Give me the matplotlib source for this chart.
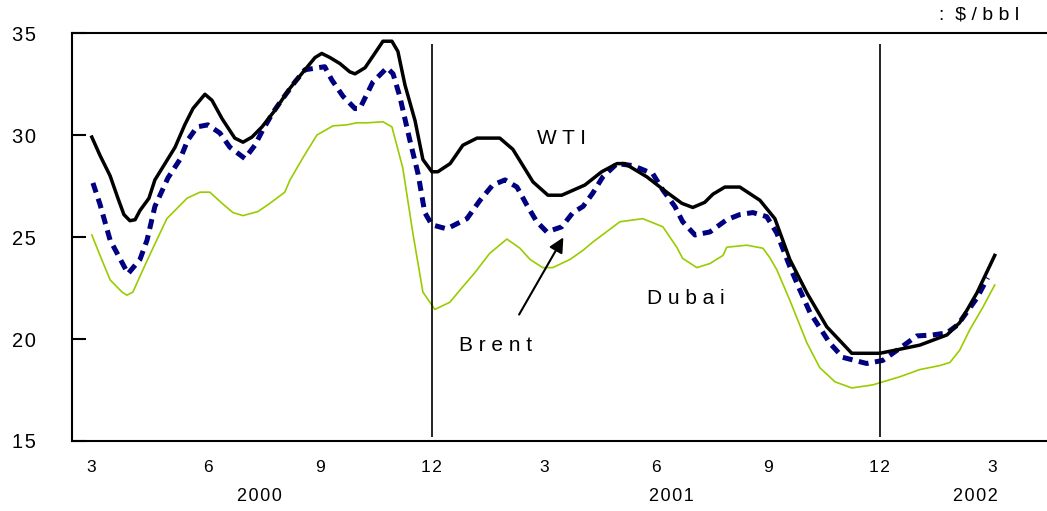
import numpy as np
import matplotlib
matplotlib.use("Agg")
import matplotlib.pyplot as plt
import matplotlib.transforms as mtransforms

plt.rcParams['font.family'] = ['Liberation Sans', 'DejaVu Sans']

# months after March 2000 (fractional, weekly-ish readings)
wti_x = [-0.11, 0.11, 0.38, 0.59, 0.75, 0.91, 1.05, 1.18, 1.42, 1.58, 1.85, 2.12, 2.38,
         2.60, 2.92, 3.11, 3.38, 3.72, 3.94, 4.18, 4.45, 4.79, 5.20, 5.60, 5.87, 6.05,
         6.27, 6.54, 6.80, 6.94, 7.21, 7.47, 7.69, 7.93, 8.09, 8.28, 8.55, 8.76, 9.00,
         9.16, 9.49, 9.83, 10.21, 10.82, 11.17, 11.71, 12.11, 12.48, 13.10, 13.55, 13.96,
         14.17, 14.76, 15.29, 15.70, 15.99, 16.31, 16.53, 16.85, 17.25, 17.79, 18.19,
         18.59, 19.05, 19.58, 20.25, 21.00, 21.54, 22.07, 22.80, 23.14, 23.60, 24.08]
wti_y = [29.9, 29.0, 28.0, 26.9, 26.1, 25.8, 25.85, 26.3, 26.9, 27.8, 28.6, 29.4, 30.5,
         31.3, 32.0, 31.7, 30.8, 29.85, 29.65, 29.9, 30.4, 31.2, 32.3, 33.2, 33.8, 34.0,
         33.8, 33.5, 33.1, 33.0, 33.3, 34.0, 34.6, 34.6, 34.1, 32.45, 30.7, 28.8, 28.2,
         28.2, 28.6, 29.5, 29.85, 29.85, 29.3, 27.7, 27.05, 27.05, 27.55, 28.2, 28.6,
         28.6, 27.95, 27.2, 26.65, 26.45, 26.7, 27.1, 27.45, 27.45, 26.8, 25.9,
         23.9, 22.25, 20.6, 19.3, 19.3, 19.5, 19.7, 20.2, 20.8, 22.25, 24.1]

brent_x = [-0.08, 0.11, 0.38, 0.86, 1.18, 1.37, 1.58, 1.93, 2.25, 2.46, 2.71, 3.00, 3.32,
           3.59, 3.99, 4.26, 4.47, 4.74, 5.01, 5.33, 5.60, 5.95, 6.13, 6.32, 6.62, 6.94,
           7.07, 7.42, 7.80, 7.96, 8.14, 8.41, 8.63, 8.81, 9.00, 9.40, 9.94, 10.29, 10.63,
           10.96, 11.28, 11.55, 11.81, 12.08, 12.48, 12.78, 13.05, 13.31, 13.58, 13.96,
           14.39, 14.92, 15.19, 15.51, 15.72, 16.05, 16.45, 16.90, 17.25, 17.60, 17.97,
           18.24, 18.59, 18.86, 19.13, 19.66, 20.01, 20.65, 21.08, 21.54, 21.99, 22.42,
           22.80, 23.09, 23.60, 23.89]
brent_y = [27.65, 26.6, 24.85, 23.2, 23.9, 24.85, 26.5, 27.9, 28.8, 29.75, 30.4, 30.5, 30.1,
           29.4, 28.85, 29.5, 30.25, 31.1, 31.8, 32.6, 33.2, 33.3, 33.35, 32.7, 31.9, 31.3,
           31.3, 32.6, 33.3, 33.0, 31.9, 29.75, 28.1, 26.2, 25.6, 25.4, 25.9, 26.8, 27.55,
           27.8, 27.45, 26.55, 25.75, 25.25, 25.5, 26.2, 26.5, 27.15, 27.95, 28.6,
           28.5, 28.1, 27.3, 26.5, 25.75, 25.1, 25.25, 25.85, 26.1, 26.2, 26.0,
           25.2, 23.55, 22.4, 21.3, 19.8, 19.1, 18.8, 18.95, 19.55, 20.15, 20.2,
           20.3, 20.7, 22.0, 23.0]

dubai_x = [-0.11, 0.11, 0.38, 0.70, 0.83, 0.99, 1.26, 1.50, 1.90, 2.44, 2.79, 3.05, 3.38,
           3.67, 3.94, 4.34, 4.66, 5.06, 5.20, 5.55, 5.92, 6.35, 6.72, 6.99, 7.26, 7.69,
           7.93, 8.22, 8.49, 8.76, 9.08, 9.48, 9.80, 10.15, 10.55, 11.01, 11.36, 11.63,
           11.97, 12.24, 12.70, 13.05, 13.31, 14.04, 14.65, 15.19, 15.56, 15.72, 16.10,
           16.45, 16.80, 16.90, 17.44, 17.87, 18.05, 18.24, 18.59, 19.05, 19.39, 19.80,
           20.25, 20.81, 21.54, 22.07, 22.61, 22.88, 23.14, 23.41, 23.76, 24.08]
dubai_y = [25.1, 24.1, 22.9, 22.3, 22.15, 22.3, 23.4, 24.35, 25.9, 26.9, 27.2, 27.2, 26.65,
           26.2, 26.05, 26.25, 26.65, 27.2, 27.8, 28.9, 30.0, 30.45, 30.5, 30.6, 30.6, 30.65,
           30.4, 28.4, 25.2, 22.3, 21.45, 21.8, 22.5, 23.25, 24.2, 24.9, 24.45, 23.9,
           23.5, 23.5, 23.9, 24.35, 24.75, 25.75, 25.9, 25.5, 24.5, 23.95, 23.5,
           23.7, 24.1, 24.5, 24.6, 24.45, 24.0, 23.4, 21.9, 19.8, 18.6, 17.9,
           17.6, 17.75, 18.15, 18.5, 18.7, 18.85, 19.45, 20.45, 21.55, 22.65]

y_ticks = [15, 20, 25, 30, 35]
tick_pos = [0, 3, 6, 9, 12, 15, 18, 21, 24]
tick_lab = ['3', '6', '9', '12', '3', '6', '9', '12', '3']
years = ['2000', '2001', '2002']
year_pos = [4.37, 15.43, 23.55]
year_breaks = [9, 21]

HS = '\u200a'  # hair space, the original uses letter-spaced digits

fig = plt.figure(figsize=(10.47, 5.11), dpi=100)
ax = fig.add_axes([0.0688, 0.137, 0.9312, 0.7983])

ax.plot(dubai_x, dubai_y, color='#99cc00', lw=1.2)
ax.plot(brent_x, brent_y, color='#000080', lw=3.6, linestyle=(0, (2.0, 1.3)),
        dash_capstyle='butt')
ax.plot(wti_x, wti_y, color='black', lw=2.5)

ax.vlines(year_breaks, 15.2, 34.45, color='black', lw=1.2)

ax.set_xlim(-0.64, 25.48)
ax.set_ylim(15, 35)
ax.set_yticks(y_ticks)
ax.set_yticklabels([HS.join(str(v)) for v in y_ticks])
ax.set_xticks(tick_pos)
ax.set_xticklabels([HS.join(t) for t in tick_lab])
ax.tick_params(axis='y', direction='in', length=10, width=1.5, pad=26, labelsize=14.5)
ax.tick_params(axis='x', length=0, pad=14, labelsize=12.5)

# first month label sits a little left of its tick in the original
first = ax.get_xticklabels()[0]
first.set_transform(first.get_transform() +
                    mtransforms.ScaledTranslation(-5 / 100, 0, fig.dpi_scale_trans))

for s in ['left', 'bottom', 'top']:
    ax.spines[s].set_linewidth(1.5)
ax.spines['right'].set_visible(False)

for yr, xp in zip(years, year_pos):
    ax.text(xp, -0.137, HS.join(yr), transform=ax.get_xaxis_transform(), ha='center',
            va='center', fontsize=13)

ax.text(12.46, 29.85, 'W T I', ha='center', va='center', fontsize=15)
ax.text(15.8, 22.0, 'D u b a i', ha='center', va='center', fontsize=15)
ax.text(10.71, 19.7, 'B r e n t', ha='center', va='center', fontsize=15)
ax.annotate('', xy=(12.56, 25.1), xytext=(11.30, 21.08),
            arrowprops=dict(arrowstyle='-|>', color='black', lw=1.5, mutation_scale=22))

fig.text(979 / 1047, 1 - 15 / 511, ':  $ / b b l', ha='center', va='center', fontsize=14)

fig.savefig('out.png', dpi=100)
